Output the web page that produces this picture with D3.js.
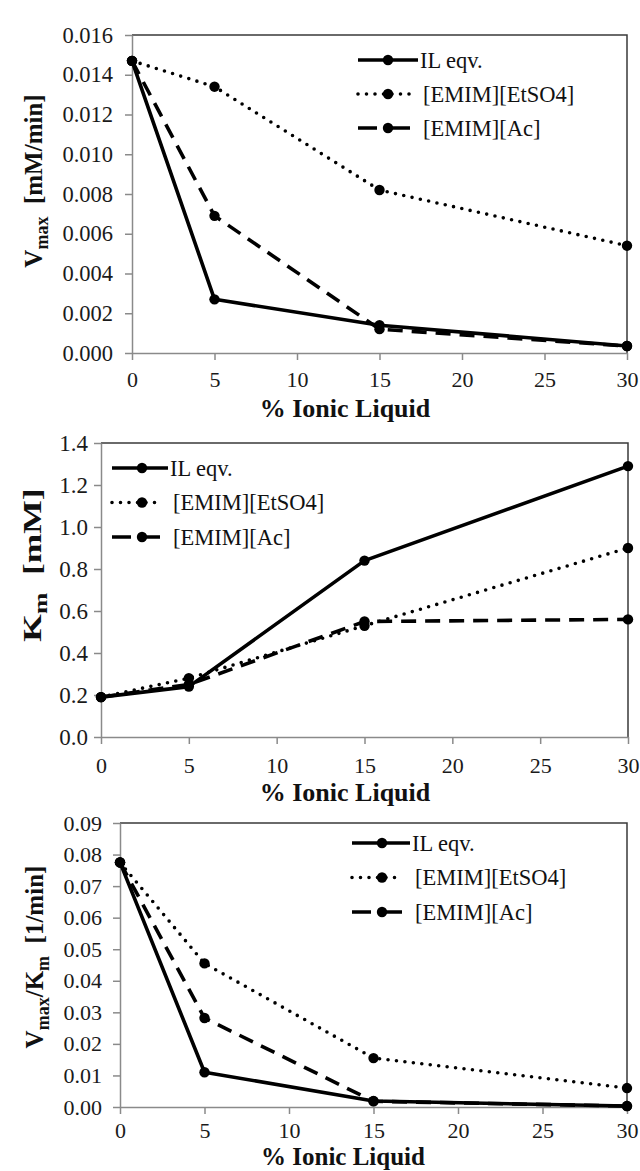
<!DOCTYPE html>
<html>
<head>
<meta charset="utf-8">
<script src="https://cdnjs.cloudflare.com/ajax/libs/d3/7.8.5/d3.min.js"></script>
<style>
  body { margin: 0; background: #fff; }
</style>
</head>
<body>
<svg id="chart" width="640" height="1171"></svg>
<script>
// x values (% ionic liquid) shared by all three panels
const pct = [0, 5, 15, 30];
const xTicks = [0, 5, 10, 15, 20, 25, 30];
const seriesNames = ["IL eqv.", "[EMIM][EtSO4]", "[EMIM][Ac]"];

// Vmax [mM/min]
const vmaxIL = [0.0147, 0.0027, 0.0014, 0.00035];
const vmaxEtSO4 = [0.0147, 0.0134, 0.0082, 0.0054];
const vmaxAc = [0.0147, 0.0069, 0.0012, 0.00035];
const vmaxTicks = [0, 0.002, 0.004, 0.006, 0.008, 0.010, 0.012, 0.014, 0.016];

// Km [mM]
const kmIL = [0.19, 0.24, 0.84, 1.29];
const kmEtSO4 = [0.19, 0.28, 0.53, 0.90];
const kmAc = [0.19, 0.25, 0.55, 0.56];
const kmTicks = [0, 0.2, 0.4, 0.6, 0.8, 1.0, 1.2, 1.4];

// Vmax/Km [1/min]
const ratioIL = [0.0775, 0.011, 0.0019, 0.0003];
const ratioEtSO4 = [0.0775, 0.0455, 0.0155, 0.006];
const ratioAc = [0.0775, 0.0282, 0.0018, 0.0003];
const ratioTicks = [0, 0.01, 0.02, 0.03, 0.04, 0.05, 0.06, 0.07, 0.08, 0.09];

const serifFont = "Liberation Serif";

// line styles for IL eqv., EtSO4, Ac
const styles = [
  { dash: null, cap: "butt", legendDash: null },
  { dash: "0 8.5", cap: "round", legendDash: "0 8.5" },
  { dash: "15 9", cap: "butt", legendDash: "19 8 100" }
];

var svg = d3.select("#chart").attr("font-family", serifFont);
svg.append("rect").attr("width", 640).attr("height", 1171).attr("fill", "#fff");

function drawPanel(p) {
  var x = d3.scaleLinear().domain([0, 30]).range([p.left, p.right]);
  var y = d3.scaleLinear().domain([0, p.yMax]).range([p.bottom, p.top]);
  var g = svg.append("g");

  // top + right frame
  g.append("path")
    .attr("d", `M${p.left},${p.top}H${p.right}V${p.bottom}`)
    .attr("fill", "none")
    .attr("stroke", "#3a3a3a")
    .attr("stroke-width", 1.5);

  var xAxis = g.append("g")
    .attr("transform", `translate(0,${p.bottom})`)
    .call(d3.axisBottom(x).tickValues(xTicks).tickSize(7).tickSizeOuter(0).tickPadding(p.xPad));
  var yAxis = g.append("g")
    .attr("transform", `translate(${p.left},0)`)
    .call(d3.axisLeft(y).tickValues(p.yTicks).tickFormat(d3.format(p.fmt))
      .tickSize(7).tickSizeOuter(0).tickPadding(p.yPad));

  xAxis.attr("font-size", 22);
  yAxis.attr("font-size", p.yTickFont);
  [xAxis, yAxis].forEach(function(a) {
    a.attr("font-family", serifFont);
    a.select(".domain").attr("stroke", "#8a8a8a").attr("stroke-width", 1.5);
    a.selectAll(".tick line").attr("stroke", "#8a8a8a").attr("stroke-width", 1.5);
    a.selectAll(".tick text").attr("fill", "#1a1a1a");
  });

  var line = d3.line()
    .x(function(d, i) { return x(pct[i]); })
    .y(function(d) { return y(d); });

  // draw dotted, dashed, then solid on top
  [1, 2, 0].forEach(function(si) {
    var vals = p.series[si];
    var st = styles[si];
    g.append("path")
      .datum(vals)
      .attr("d", line)
      .attr("fill", "none")
      .attr("stroke", "#000")
      .attr("stroke-width", 3.6)
      .attr("stroke-linecap", st.cap)
      .attr("stroke-linejoin", "round")
      .attr("stroke-dasharray", st.dash);
    g.selectAll(null)
      .data(vals)
      .enter()
      .append("circle")
      .attr("cx", function(d, i) { return x(pct[i]); })
      .attr("cy", function(d) { return y(d); })
      .attr("r", 5.2)
      .attr("fill", "#000");
  });

  // legend
  var lg = g.append("g").attr("class", "legend");
  seriesNames.forEach(function(name, i) {
    var ly = p.legend.y + i * p.legend.gap;
    var st = styles[i];
    var len = i === 0 ? p.legend.len : p.legend.len - 8;
    lg.append("line")
      .attr("x1", p.legend.x)
      .attr("x2", p.legend.x + len)
      .attr("y1", ly)
      .attr("y2", ly)
      .attr("stroke", "#000")
      .attr("stroke-width", 3.6)
      .attr("stroke-linecap", st.cap)
      .attr("stroke-dasharray", st.legendDash);
    lg.append("circle")
      .attr("cx", p.legend.x + 30)
      .attr("cy", ly)
      .attr("r", 5.2)
      .attr("fill", "#000");
    lg.append("text")
      .attr("x", p.legend.x + (i === 0 ? p.legend.len + 2 : p.legend.len + 5))
      .attr("y", ly)
      .attr("dy", "0.35em")
      .attr("font-family", serifFont)
      .attr("font-size", 22.5)
      .attr("fill", "#111")
      .text(name);
  });

  // x title
  g.append("text")
    .attr("x", p.xTitle[0])
    .attr("y", p.xTitle[1])
    .attr("dy", "0.35em")
    .attr("text-anchor", "middle")
    .attr("font-family", serifFont)
    .attr("font-size", p.xTitleFont)
    .attr("font-weight", "bold")
    .attr("fill", "#111")
    .text("% Ionic Liquid");

  // y title (rotated, with subscripts); stretch = scale along the text
  var yt = g.append("text")
    .attr("transform", `translate(${p.yTitle[0]},${p.yTitle[1]}) rotate(-90) scale(${p.yStretch},1)`)
    .attr("text-anchor", "middle")
    .attr("dy", "0.35em")
    .attr("font-family", serifFont)
    .attr("font-weight", "bold")
    .attr("font-size", 25)
    .attr("fill", "#111")
    .style("white-space", "pre");
  p.yLabel.forEach(function(part) {
    var t = yt.append("tspan").text(part.t);
    if (part.sub) {
      t.attr("font-size", 18).attr("dy", 6);
    } else if (part.after) {
      t.attr("dy", -6);
    }
  });
}

drawPanel({
  left: 132, right: 627, top: 35, bottom: 353,
  yMax: 0.016, yTicks: vmaxTicks, fmt: ".3f",
  xPad: 11, yPad: 12, yTickFont: 22.5,
  series: [vmaxIL, vmaxEtSO4, vmaxAc],
  legend: { x: 358, y: 60, gap: 34, len: 60 },
  xTitle: [345, 408], xTitleFont: 26,
  yTitle: [33, 181], yStretch: 1,
  yLabel: [{ t: "V" }, { t: "max", sub: true }, { t: "  [mM/min]", after: true }]
});

drawPanel({
  left: 101, right: 628, top: 443, bottom: 737,
  yMax: 1.4, yTicks: kmTicks, fmt: ".1f",
  xPad: 13, yPad: 6, yTickFont: 23,
  series: [kmIL, kmEtSO4, kmAc],
  legend: { x: 112, y: 468, gap: 34.5, len: 56 },
  xTitle: [345, 792], xTitleFont: 26,
  yTitle: [32, 565], yStretch: 1.42,
  yLabel: [{ t: "K" }, { t: "m", sub: true }, { t: "  [mM]", after: true }]
});

drawPanel({
  left: 120, right: 627, top: 823, bottom: 1107,
  yMax: 0.09, yTicks: ratioTicks, fmt: ".2f",
  xPad: 8, yPad: 11, yTickFont: 22,
  series: [ratioIL, ratioEtSO4, ratioAc],
  legend: { x: 352, y: 843, gap: 34.5, len: 58 },
  xTitle: [343, 1156], xTitleFont: 25,
  yTitle: [34, 957], yStretch: 1,
  yLabel: [{ t: "V" }, { t: "max", sub: true }, { t: "/K", after: true },
           { t: "m", sub: true }, { t: "  [1/min]", after: true }]
});
</script>
</body>
</html>
